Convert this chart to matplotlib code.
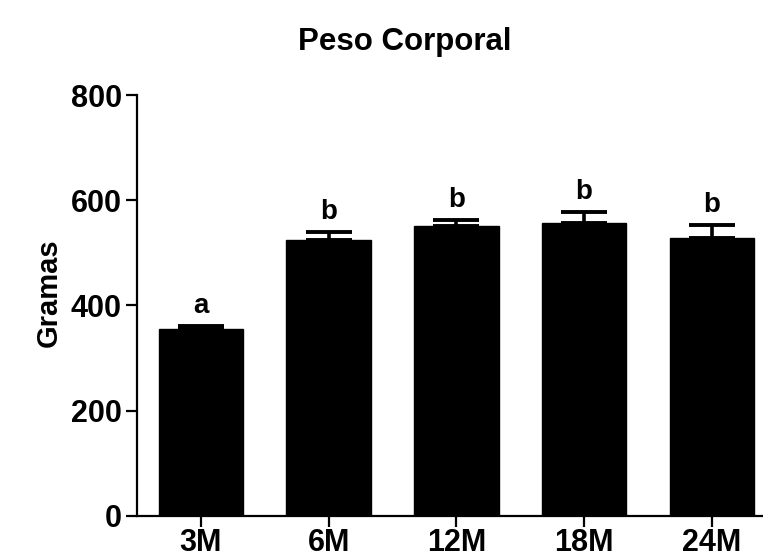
import matplotlib
matplotlib.use('Agg')
import matplotlib.pyplot as plt
import numpy as np

plt.rcParams['font.family'] = ['Liberation Sans', 'DejaVu Sans']
plt.rcParams['font.weight'] = 'bold'

# body weight by age group (mean and SEM, grams)
groups = ['3M', '6M', '12M', '18M', '24M']
mean_weight = [355, 524, 551, 556, 529]
sem_weight = [6, 15, 11, 21, 25]
letters = ['a', 'b', 'b', 'b', 'b']
y_ticks = [0, 200, 400, 600, 800]


def plot_bars(ax, x, means, errors):
    ax.bar(x, means, width=0.66, color='black', edgecolor='black', zorder=2)
    lower = np.zeros(len(errors))
    ax.errorbar(x, means, yerr=[lower, errors], fmt='none', ecolor='black',
                elinewidth=2.6, capsize=16.5, capthick=2.8, zorder=3)


def plot_letters(ax, x, means, errors, letters):
    for xi, m, e, s in zip(x, means, errors, letters):
        ax.annotate(s, (xi, m + e), xytext=(0, 5), textcoords='offset points',
                    ha='center', va='bottom', fontsize=20, fontweight='bold')


fig = plt.figure(figsize=(7.63, 5.6), dpi=100)
ax = fig.add_axes([0.1796, 0.079, 0.8204, 0.751])

x = np.arange(len(groups))
plot_bars(ax, x, mean_weight, sem_weight)
plot_letters(ax, x, mean_weight, sem_weight, letters)

ax.set_xlim(-0.5, 4.4)
ax.set_ylim(0, 800)
ax.set_yticks(y_ticks)
ax.set_xticks(x)
ax.set_xticklabels(groups)
ax.tick_params(axis='both', labelsize=22, width=1.6, length=8, direction='out')
ax.tick_params(axis='x', pad=1)
ax.tick_params(axis='y', pad=3)
for label in ax.get_xticklabels() + ax.get_yticklabels():
    label.set_fontweight('bold')

for side in ['top', 'right']:
    ax.spines[side].set_visible(False)
for side in ['left', 'bottom']:
    ax.spines[side].set_linewidth(1.6)

ax.set_ylabel('Gramas', fontsize=21, fontweight='bold')
ax.yaxis.set_label_coords(-0.118, 0.53)
fig.text(0.531, 0.925, 'Peso Corporal', ha='center', va='center',
         fontsize=22.5, fontweight='bold')

fig.savefig('out.png', dpi=100)
